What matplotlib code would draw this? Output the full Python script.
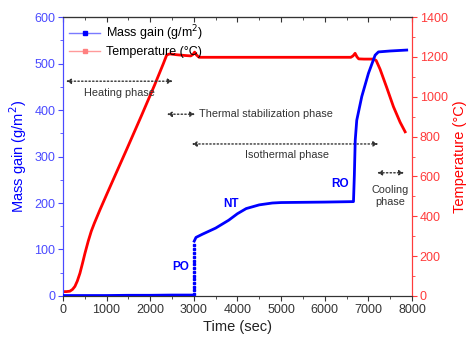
import numpy as np
import matplotlib.pyplot as plt
from matplotlib.lines import Line2D
from matplotlib.ticker import MultipleLocator

plt.rcParams['font.family'] = ['Liberation Sans', 'DejaVu Sans']

# Temperature (°C) vs time (s)
temp_t = [0, 80, 160, 220, 275, 330, 390, 450, 505, 580, 650, 720, 850, 1000,
          1200, 1460, 1800, 2100, 2300, 2380, 2450, 2600, 2800, 2930, 2980,
          3020, 3060, 3120, 3300, 4000, 5000, 6000, 6600, 6650, 6697, 6740,
          6780, 6900, 7120, 7180, 7270, 7424, 7576, 7729, 7844]
temp_v = [22, 22, 24, 33, 48, 75, 114, 165, 214, 275, 325, 365, 433, 508,
          607, 735, 905, 1058, 1165, 1210, 1215, 1211, 1207, 1205, 1212,
          1224, 1210, 1198, 1198, 1198, 1198, 1198, 1198, 1205, 1218, 1200,
          1190, 1189, 1189, 1182, 1138, 1045, 950, 872, 824]

# Mass gain (g/m2) vs time (s)
mass_t1 = [0, 500, 1000, 1500, 2000, 2500, 2980]
mass_v1 = [1, 1, 1, 1.5, 1.5, 2, 2]
po_t = [3000] * 14
po_v = [5, 12, 20, 28, 36, 44, 52, 60, 68, 76, 84, 92, 100, 110]
mass_t2 = [3010, 3050, 3200, 3500, 3800, 4000, 4200, 4500, 4800, 5000, 6000,
           6660, 6680, 6700, 6735, 6850, 7003, 7156, 7232, 7500, 7880]
mass_v2 = [118, 126, 133, 146, 163, 177, 188, 196, 200, 201, 202,
           203, 260, 335, 378, 429, 479, 518, 525, 527, 529]

blue = '#0000ff'
red = '#ff0000'
tblue = '#4a4aff'
tred = '#ff3b3b'
gray = '#333333'

fig = plt.figure(figsize=(4.66, 3.41), dpi=100)
ax = fig.add_axes([0.135, 0.132, 0.749, 0.818])
ax2 = ax.twinx()

ax2.plot(temp_t, temp_v, color=red, lw=2)
ax.plot(mass_t1, mass_v1, color=blue, lw=2, zorder=5)
ax.plot(po_t, po_v, 's', color=blue, ms=1.5, zorder=5)
ax.plot(mass_t2, mass_v2, color=blue, lw=2, zorder=5)
ax.set_zorder(ax2.get_zorder() + 1)
ax.patch.set_visible(False)

ax.set_xlim(0, 8000)
ax.set_ylim(0, 600)
ax2.set_ylim(0, 1400)
ax.xaxis.set_major_locator(MultipleLocator(1000))
ax.xaxis.set_minor_locator(MultipleLocator(500))
ax.yaxis.set_major_locator(MultipleLocator(100))
ax.yaxis.set_minor_locator(MultipleLocator(50))
ax2.yaxis.set_major_locator(MultipleLocator(200))
ax2.yaxis.set_minor_locator(MultipleLocator(100))

ax.tick_params(axis='x', which='both', direction='out', top=False, labelsize=9,
               colors=gray, length=3.5, pad=2)
ax.tick_params(axis='x', which='minor', length=2)
ax.tick_params(axis='y', which='both', direction='out', colors=tblue, labelsize=9,
               length=3.5, pad=2)
ax.tick_params(axis='y', which='minor', length=2)
ax2.tick_params(axis='y', which='both', direction='out', colors=tred, labelsize=9,
                length=3.5, pad=2)
ax2.tick_params(axis='y', which='minor', length=2)

# top ticks point inward
secx = ax.secondary_xaxis('top')
secx.xaxis.set_major_locator(MultipleLocator(1000))
secx.xaxis.set_minor_locator(MultipleLocator(500))
secx.tick_params(which='both', direction='in', labeltop=False, colors=gray, length=3.5)
secx.tick_params(which='minor', length=2)

for a in (ax, ax2):
    a.spines['left'].set_color(tblue)
    a.spines['right'].set_color(tred)
    a.spines['bottom'].set_color(gray)
    a.spines['top'].set_color(gray)
secx.spines['top'].set_color(gray)

ax.set_xlabel('Time (sec)', fontsize=10.5, color='#222222', labelpad=3)
ax.set_ylabel('Mass gain (g/m$^2$)', fontsize=10.5, color=blue, labelpad=4)
ax2.set_ylabel('Temperature (°C)', fontsize=10.5, color=red, labelpad=4)

handles = [Line2D([], [], color='#7a7aff', lw=1, marker='s', ms=2.5, mfc=blue, mec=blue),
           Line2D([], [], color='#ff9a9a', lw=1, marker='s', ms=2.5, mfc='#ff8080', mec='#ff8080')]
ax.legend(handles, ['Mass gain (g/m$^2$)', 'Temperature (°C)'], loc='upper left',
          frameon=False, fontsize=9, handlelength=2.5, borderaxespad=0.1,
          labelspacing=0.25, handletextpad=0.45)

arrow = dict(arrowstyle='<|-|>', linestyle=':', color=gray, lw=1,
             mutation_scale=7, shrinkA=0, shrinkB=0)
fs = 7.8
ax.annotate('', xy=(70, 462), xytext=(2520, 462), arrowprops=arrow)
ax.text(1290, 437, 'Heating phase', ha='center', va='center', fontsize=fs, color=gray)
ax.annotate('', xy=(2380, 391), xytext=(3030, 391), arrowprops=arrow)
ax.text(3120, 391, 'Thermal stabilization phase', ha='left', va='center',
        fontsize=fs, color=gray)
ax.annotate('', xy=(2950, 327), xytext=(7230, 327), arrowprops=arrow)
ax.text(5130, 303, 'Isothermal phase', ha='center', va='center', fontsize=fs, color=gray)
ax.annotate('', xy=(7200, 265), xytext=(7820, 265), arrowprops=arrow)
ax.text(7500, 215, 'Cooling\nphase', ha='center', va='center', fontsize=fs,
        color=gray, linespacing=1.2)

ax.text(2690, 62, 'PO', color=blue, fontsize=8.5, fontweight='bold', ha='center', va='center')
ax.text(3850, 198, 'NT', color=blue, fontsize=8.5, fontweight='bold', ha='center', va='center')
ax.text(6350, 241, 'RO', color=blue, fontsize=8.5, fontweight='bold', ha='center', va='center')

fig.savefig('out.png', dpi=100)
